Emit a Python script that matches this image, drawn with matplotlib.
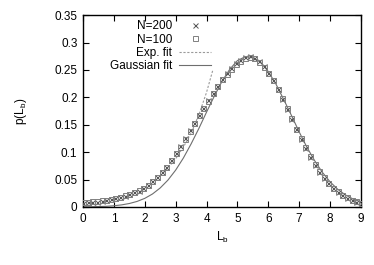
import matplotlib
matplotlib.use("Agg")
import matplotlib.pyplot as plt
import numpy as np

plt.rcParams['font.family'] = ['Liberation Sans', 'DejaVu Sans']

# Data
x_data = [round(0.15 * i, 2) for i in range(61)]
p_n200 = [0.0080, 0.0086, 0.0091, 0.0098, 0.0108, 0.0122, 0.0140, 0.0157, 0.0176, 0.0203,
          0.0230, 0.0264, 0.0300, 0.0345, 0.0395, 0.0465, 0.0540, 0.0630, 0.0735, 0.0850,
          0.0980, 0.111, 0.125, 0.140, 0.154, 0.167, 0.181, 0.195, 0.208, 0.221,
          0.234, 0.244, 0.253, 0.262, 0.268, 0.273, 0.275, 0.272, 0.266, 0.257,
          0.245, 0.231, 0.215, 0.197, 0.179, 0.161, 0.142, 0.124, 0.108, 0.092,
          0.077, 0.064, 0.053, 0.043, 0.0345, 0.0274, 0.0214, 0.0166, 0.0127, 0.0095,
          0.0071]
p_n100 = [0.0095, 0.0098, 0.0103, 0.0110, 0.0120, 0.0133, 0.0148, 0.0165, 0.0185, 0.0210,
          0.0238, 0.0270, 0.0306, 0.0350, 0.0402, 0.0470, 0.0545, 0.0633, 0.0738, 0.0852,
          0.0978, 0.110, 0.124, 0.139, 0.153, 0.167, 0.181, 0.194, 0.207, 0.220,
          0.233, 0.243, 0.252, 0.261, 0.267, 0.271, 0.273, 0.271, 0.265, 0.256,
          0.245, 0.232, 0.216, 0.198, 0.180, 0.162, 0.143, 0.125, 0.109, 0.093,
          0.078, 0.065, 0.054, 0.044, 0.0355, 0.0283, 0.0222, 0.0173, 0.0133, 0.0100,
          0.0076]

x_exp = [2.5, 2.75, 3.0, 3.25, 3.5, 3.75, 4.0, 4.2]
p_exp = [0.057, 0.071, 0.088, 0.109, 0.135, 0.168, 0.209, 0.249]

x_gauss = [0.0, 0.25, 0.5, 0.75, 1.0, 1.25, 1.5, 1.75, 2.0, 2.25, 2.5, 2.75, 3.0, 3.25, 3.5,
           3.75, 4.0, 4.25, 4.5, 4.75, 5.0, 5.25, 5.5, 5.75, 6.0, 6.25, 6.5, 6.75, 7.0,
           7.25, 7.5, 7.75, 8.0, 8.25, 8.5, 8.75, 9.0]
p_gauss = [0.0002, 0.0004, 0.0007, 0.0012, 0.0022, 0.0038, 0.0063, 0.0101, 0.0157, 0.0237,
           0.0347, 0.049, 0.0672, 0.0893, 0.115, 0.143, 0.173, 0.202, 0.229, 0.251,
           0.267, 0.274, 0.273, 0.264, 0.247, 0.224, 0.196, 0.167, 0.137, 0.109,
           0.0846, 0.0633, 0.0459, 0.0322, 0.0219, 0.0144, 0.0092]

x_ticks = [0, 1, 2, 3, 4, 5, 6, 7, 8, 9]
y_ticks = [0, 0.05, 0.1, 0.15, 0.2, 0.25, 0.3, 0.35]
y_ticklabels = ['0', '0.05', '0.1', '0.15', '0.2', '0.25', '0.3', '0.35']

fig = plt.figure(figsize=(3.74, 2.65), dpi=100)
ax = fig.add_axes([0.222, 0.219, 0.743, 0.724])

ax.plot(x_data, p_n200, linestyle='none', marker='x', markersize=3.6,
        markeredgewidth=0.7, color='#555555', label='N=200', zorder=3)
ax.plot(x_data, p_n100, linestyle='none', marker='s', markersize=3.6,
        markeredgewidth=0.7, markerfacecolor='none', markeredgecolor='#808080',
        label='N=100', zorder=3)
ax.plot(x_exp, p_exp, linestyle=(0, (2, 1.5)), linewidth=0.8, color='#9a9a9a',
        label='Exp. fit', zorder=2)
ax.plot(x_gauss, p_gauss, linestyle='-', linewidth=0.8, color='#6e6e6e',
        label='Gaussian fit', zorder=2)

ax.set_xlim(0, 9)
ax.set_ylim(0, 0.35)
ax.set_xticks(x_ticks)
ax.set_yticks(y_ticks)
ax.set_yticklabels(y_ticklabels)
ax.tick_params(direction='in', top=True, right=True, length=4, width=0.8,
               labelsize=8.5, pad=4)
for s in ax.spines.values():
    s.set_linewidth(1.0)

ax.set_xlabel(r'L$_{\mathregular{b}}$', fontsize=8.5, labelpad=4)
ax.set_ylabel(r'p(L$_{\mathregular{b}}$)', fontsize=8.5, labelpad=18)

leg = ax.legend(loc='upper right', bbox_to_anchor=(0.48, 1.0), frameon=False,
                markerfirst=False, fontsize=8.5, handlelength=2.7, handletextpad=0.6,
                labelspacing=0.1, borderpad=0.45, borderaxespad=0.0)

fig.savefig('out.png', dpi=100)
